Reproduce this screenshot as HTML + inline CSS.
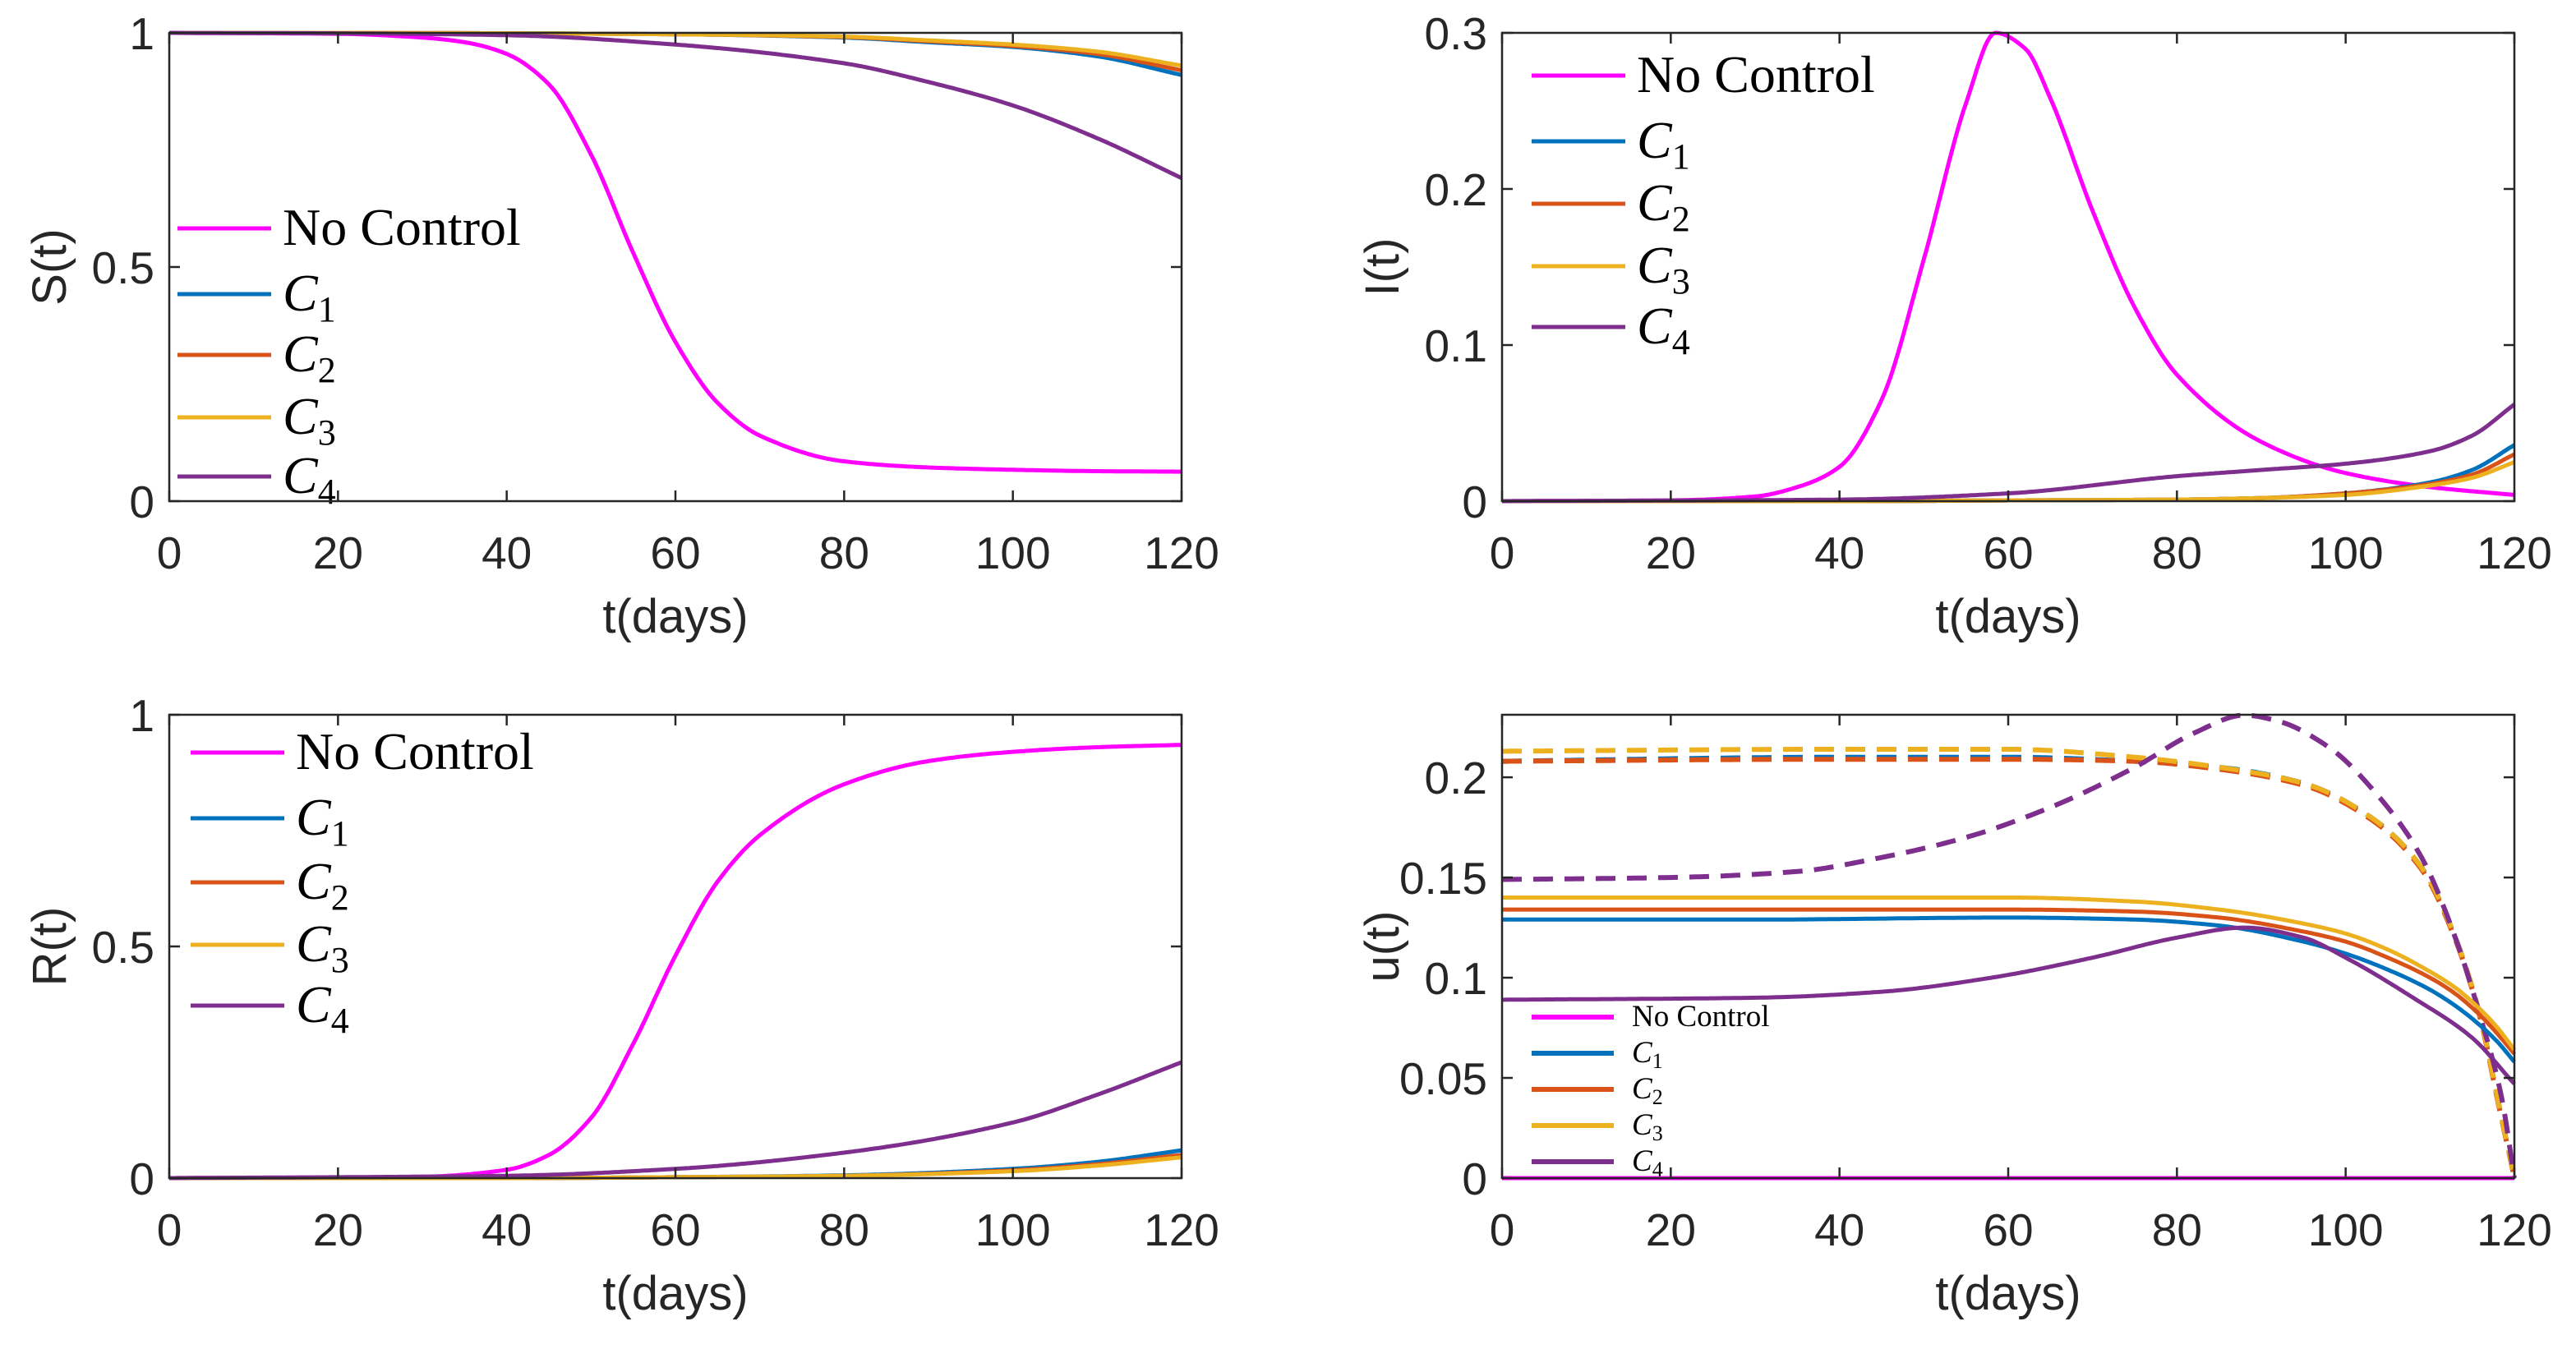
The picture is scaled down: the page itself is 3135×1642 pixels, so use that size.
<!DOCTYPE html>
<html><head><meta charset="utf-8"><style>
html,body{margin:0;padding:0;background:#fff}
svg{display:block}
text{fill:#262626}
.tk{font-family:"Liberation Sans",sans-serif;font-size:55px}
.al{font-family:"Liberation Sans",sans-serif;font-size:58px}
.lg{font-family:"Liberation Serif",serif;font-size:64px;fill:#000}
.lgs{font-family:"Liberation Serif",serif;font-size:37px;fill:#000}
</style></head><body>
<svg id="fig" width="3135" height="1642" viewBox="0 0 3135 1642" xmlns="http://www.w3.org/2000/svg"></svg>
<script>
const xTicks=[0,20,40,60,80,100,120];
// S(t)
const sT=[0,20,30,35,40,45,50,55,60,65,70,80,90,100,110,120];
const sNo=[1,0.998,0.99,0.98,0.955,0.89,0.74,0.53,0.34,0.21,0.14,0.085,0.072,0.067,0.064,0.063];
const sCT=[0,20,40,60,80,90,100,110,120];
const sC1=[1,1,0.999,0.997,0.99,0.98,0.97,0.95,0.91];
const sC2=[1,1,0.999,0.997,0.991,0.982,0.972,0.955,0.92];
const sC3=[1,1,0.999,0.997,0.992,0.984,0.975,0.96,0.93];
const sC4=[1,0.999,0.995,0.975,0.935,0.895,0.845,0.775,0.69];
// I(t)
const iT=[0,20,30,35,40,45,50,55,58.5,62,65,70,75,80,90,100,110,120];
const iNo=[0,0.0005,0.003,0.009,0.022,0.065,0.155,0.255,0.3,0.29,0.258,0.186,0.124,0.081,0.038,0.018,0.009,0.004];
const iCT=[0,40,60,80,90,100,110,115,120];
const iC1=[0,0,0.0005,0.001,0.002,0.005,0.012,0.02,0.036];
const iC2=[0,0,0.0005,0.001,0.002,0.005,0.011,0.017,0.03];
const iC3=[0,0,0.0005,0.001,0.002,0.004,0.01,0.015,0.025];
const iC4=[0,0.001,0.005,0.016,0.02,0.024,0.032,0.042,0.062];
// R(t)
const rT=[0,30,40,45,50,55,60,65,70,80,90,100,110,120];
const rNo=[0,0.003,0.018,0.05,0.13,0.29,0.48,0.64,0.74,0.85,0.9,0.92,0.93,0.935];
const rCT=[0,40,60,80,100,110,120];
const rC1=[0,0,0.002,0.006,0.02,0.035,0.06];
const rC2=[0,0,0.002,0.005,0.017,0.03,0.05];
const rC3=[0,0,0.002,0.005,0.015,0.027,0.045];
const rC4=[0,0.005,0.02,0.055,0.12,0.18,0.25];
// u(t)
const uT=[0,30,60,75,85,95,100,105,110,113,116,118,120];
const uNo=[0,0,0,0,0,0,0,0,0,0,0,0,0];
const uC1=[0.129,0.129,0.13,0.129,0.126,0.118,0.112,0.104,0.094,0.086,0.076,0.068,0.058];
const uC2=[0.134,0.134,0.134,0.133,0.13,0.123,0.118,0.11,0.1,0.092,0.081,0.072,0.062];
const uC3=[0.14,0.14,0.14,0.138,0.134,0.127,0.122,0.114,0.103,0.095,0.084,0.075,0.064];
const uC4T=[0,30,45,58,70,80,88,95,100,108,115,120];
const uC4=[0.089,0.09,0.093,0.1,0.11,0.12,0.125,0.12,0.11,0.09,0.07,0.047];
const udT=[0,40,60,75,85,95,103,109,113,116,118,120];
const ud1=[0.208,0.21,0.21,0.208,0.205,0.197,0.18,0.155,0.12,0.08,0.04,0];
const ud2=[0.208,0.209,0.209,0.208,0.204,0.196,0.179,0.154,0.119,0.079,0.039,0];
const ud3=[0.213,0.214,0.214,0.21,0.205,0.197,0.18,0.155,0.12,0.08,0.04,0];
const ud4T=[0,20,35,45,55,65,75,82,88,92,98,104,109,113,116,118.5,120];
const ud4=[0.149,0.15,0.153,0.16,0.17,0.185,0.205,0.222,0.231,0.228,0.215,0.19,0.16,0.12,0.08,0.04,0];

const COL={no:"#FF00FF",c1:"#0072BD",c2:"#D95319",c3:"#EDB120",c4:"#7E2F8E"};
const NS="http://www.w3.org/2000/svg";
const svg=document.getElementById('fig');
function mk(tag,attrs,parent){const e=document.createElementNS(NS,tag);for(const k in attrs)e.setAttribute(k,attrs[k]);(parent||svg).appendChild(e);return e;}

function makeAxes(name,x0,x1,y0,y1,ymax,yTicks,yLabels,ylab){
  const g=mk('g',{});
  
  
  const sx=t=>x0+(t/120)*(x1-x0);
  const sy=v=>y0-(v/ymax)*(y0-y1);
  return {g,sx,sy,x0,x1,y0,y1,yTicks,yLabels,ylab};
}
function drawFrame(A){
  const {g,sx,sy,x0,x1,y0,y1}=A;
  const fr=mk('rect',{x:x0,y:y1,width:x1-x0,height:y0-y1,fill:'none',stroke:'#262626','stroke-width':2.5},g);
  
  
  xTicks.forEach(t=>{
    mk('line',{x1:sx(t),x2:sx(t),y1:y0,y2:y0-13,stroke:'#262626','stroke-width':2.5},g);
    mk('line',{x1:sx(t),x2:sx(t),y1:y1,y2:y1+13,stroke:'#262626','stroke-width':2.5},g);
    const tx=mk('text',{x:sx(t),y:y0+82,'text-anchor':'middle',class:'tk'},g);
    tx.textContent=t;
    
    
  });
  A.yTicks.forEach((v,i)=>{
    mk('line',{x1:x0,x2:x0+13,y1:sy(v),y2:sy(v),stroke:'#262626','stroke-width':2.5},g);
    mk('line',{x1:x1,x2:x1-13,y1:sy(v),y2:sy(v),stroke:'#262626','stroke-width':2.5},g);
    const tx=mk('text',{x:x0-18,y:sy(v)+20,'text-anchor':'end',class:'tk'},g);
    tx.textContent=A.yLabels[i];
    
    
  });
  const xl=mk('text',{x:(x0+x1)/2,y:y0+160,'text-anchor':'middle',class:'al'},g);
  xl.textContent='t(days)';
  
  
  const cy=(y0+y1)/2;
  const yl=mk('text',{x:x0-126,y:cy,'text-anchor':'middle',class:'al',transform:`rotate(-90 ${x0-126} ${cy})`},g);
  yl.textContent=A.ylab;
  
  
}
// monotone cubic (Fritsch-Carlson) sampled densely
function path(A,ts,vs){
  const n=ts.length,d=[],m=new Array(n);
  for(let i=0;i<n-1;i++)d.push((vs[i+1]-vs[i])/(ts[i+1]-ts[i]));
  m[0]=d[0];m[n-1]=d[n-2];
  for(let i=1;i<n-1;i++){
    if(d[i-1]*d[i]<=0)m[i]=0;
    else{const h0=ts[i]-ts[i-1],h1=ts[i+1]-ts[i];const w1=2*h1+h0,w2=h1+2*h0;m[i]=(w1+w2)/(w1/d[i-1]+w2/d[i]);}
  }
  let s=`M${A.sx(ts[0]).toFixed(1)},${A.sy(vs[0]).toFixed(1)}`;
  for(let i=0;i<n-1;i++){
    const h=ts[i+1]-ts[i],N=Math.max(4,Math.ceil(h*3));
    for(let k=1;k<=N;k++){
      const u=k/N,u2=u*u,u3=u2*u;
      const v=(2*u3-3*u2+1)*vs[i]+(u3-2*u2+u)*h*m[i]+(-2*u3+3*u2)*vs[i+1]+(u3-u2)*h*m[i+1];
      s+=` L${A.sx(ts[i]+u*h).toFixed(1)},${A.sy(v).toFixed(1)}`;
    }
  }
  return s;
}
function line(A,ts,vs,col,name,dash){
  const e=mk('path',{d:path(A,ts,vs),fill:'none',stroke:col,'stroke-width':dash?6:5,'stroke-dasharray':dash?'24 14':'none','stroke-linejoin':'round'},A.g);
  
  
}
function legend(A,lx,ys,small){
  const names=['No Control','C1','C2','C3','C4'];
  const cols=[COL.no,COL.c1,COL.c2,COL.c3,COL.c4];
  const lg=mk('g',{},A.g);
  
  
  const len=small?100:114;
  names.forEach((n,i)=>{
    const eg=mk('g',{},lg);
    
    
    mk('line',{x1:lx,x2:lx+len,y1:ys[i],y2:ys[i],stroke:cols[i],'stroke-width':small?6:5},eg);
    const tx=mk('text',{x:lx+len+(small?22:14),y:ys[i]+(small?11:20),class:small?'lgs':'lg'},eg);
    if(i===0) tx.textContent=n;
    else{
      const a=mk('tspan',{'font-style':'italic'},tx);a.textContent='C';
      const b=mk('tspan',{dy:small?7:13,'font-size':small?'26px':'44px'},tx);b.textContent=String(i);
    }
  });
}

// top-left S
const A1=makeAxes('s-chart',206,1438,610,40,1,[0,0.5,1],['0','0.5','1'],'S(t)');
line(A1,sT,sNo,COL.no,'s-no-control');
line(A1,sCT,sC1,COL.c1,'s-c1');line(A1,sCT,sC2,COL.c2,'s-c2');line(A1,sCT,sC3,COL.c3,'s-c3');line(A1,sCT,sC4,COL.c4,'s-c4');
legend(A1,216,[278,358,432,508,580]);
drawFrame(A1);
// top-right I
const A2=makeAxes('i-chart',1828,3060,610,40,0.3,[0,0.1,0.2,0.3],['0','0.1','0.2','0.3'],'I(t)');
line(A2,iT,iNo,COL.no,'i-no-control');
line(A2,iCT,iC1,COL.c1,'i-c1');line(A2,iCT,iC2,COL.c2,'i-c2');line(A2,iCT,iC3,COL.c3,'i-c3');line(A2,iCT,iC4,COL.c4,'i-c4');
legend(A2,1864,[92,172,248,324,398]);
drawFrame(A2);
// bottom-left R
const A3=makeAxes('r-chart',206,1438,1434,870,1,[0,0.5,1],['0','0.5','1'],'R(t)');
line(A3,rT,rNo,COL.no,'r-no-control');
line(A3,rCT,rC1,COL.c1,'r-c1');line(A3,rCT,rC2,COL.c2,'r-c2');line(A3,rCT,rC3,COL.c3,'r-c3');line(A3,rCT,rC4,COL.c4,'r-c4');
legend(A3,232,[916,996,1074,1150,1224]);
drawFrame(A3);
// bottom-right u
const A4=makeAxes('u-chart',1828,3060,1434,870,0.2312,[0,0.05,0.1,0.15,0.2],['0','0.05','0.1','0.15','0.2'],'u(t)');
line(A4,udT,ud1,COL.c1,'u2-c1',true);line(A4,udT,ud2,COL.c2,'u2-c2',true);line(A4,udT,ud3,COL.c3,'u2-c3',true);line(A4,ud4T,ud4,COL.c4,'u2-c4',true);
line(A4,uT,uC1,COL.c1,'u1-c1');line(A4,uT,uC2,COL.c2,'u1-c2');line(A4,uT,uC3,COL.c3,'u1-c3');line(A4,uC4T,uC4,COL.c4,'u1-c4');
line(A4,uT,uNo,COL.no,'u-no-control');
legend(A4,1864,[1238,1282,1326,1370,1414],true);
drawFrame(A4);
</script>
</body></html>
